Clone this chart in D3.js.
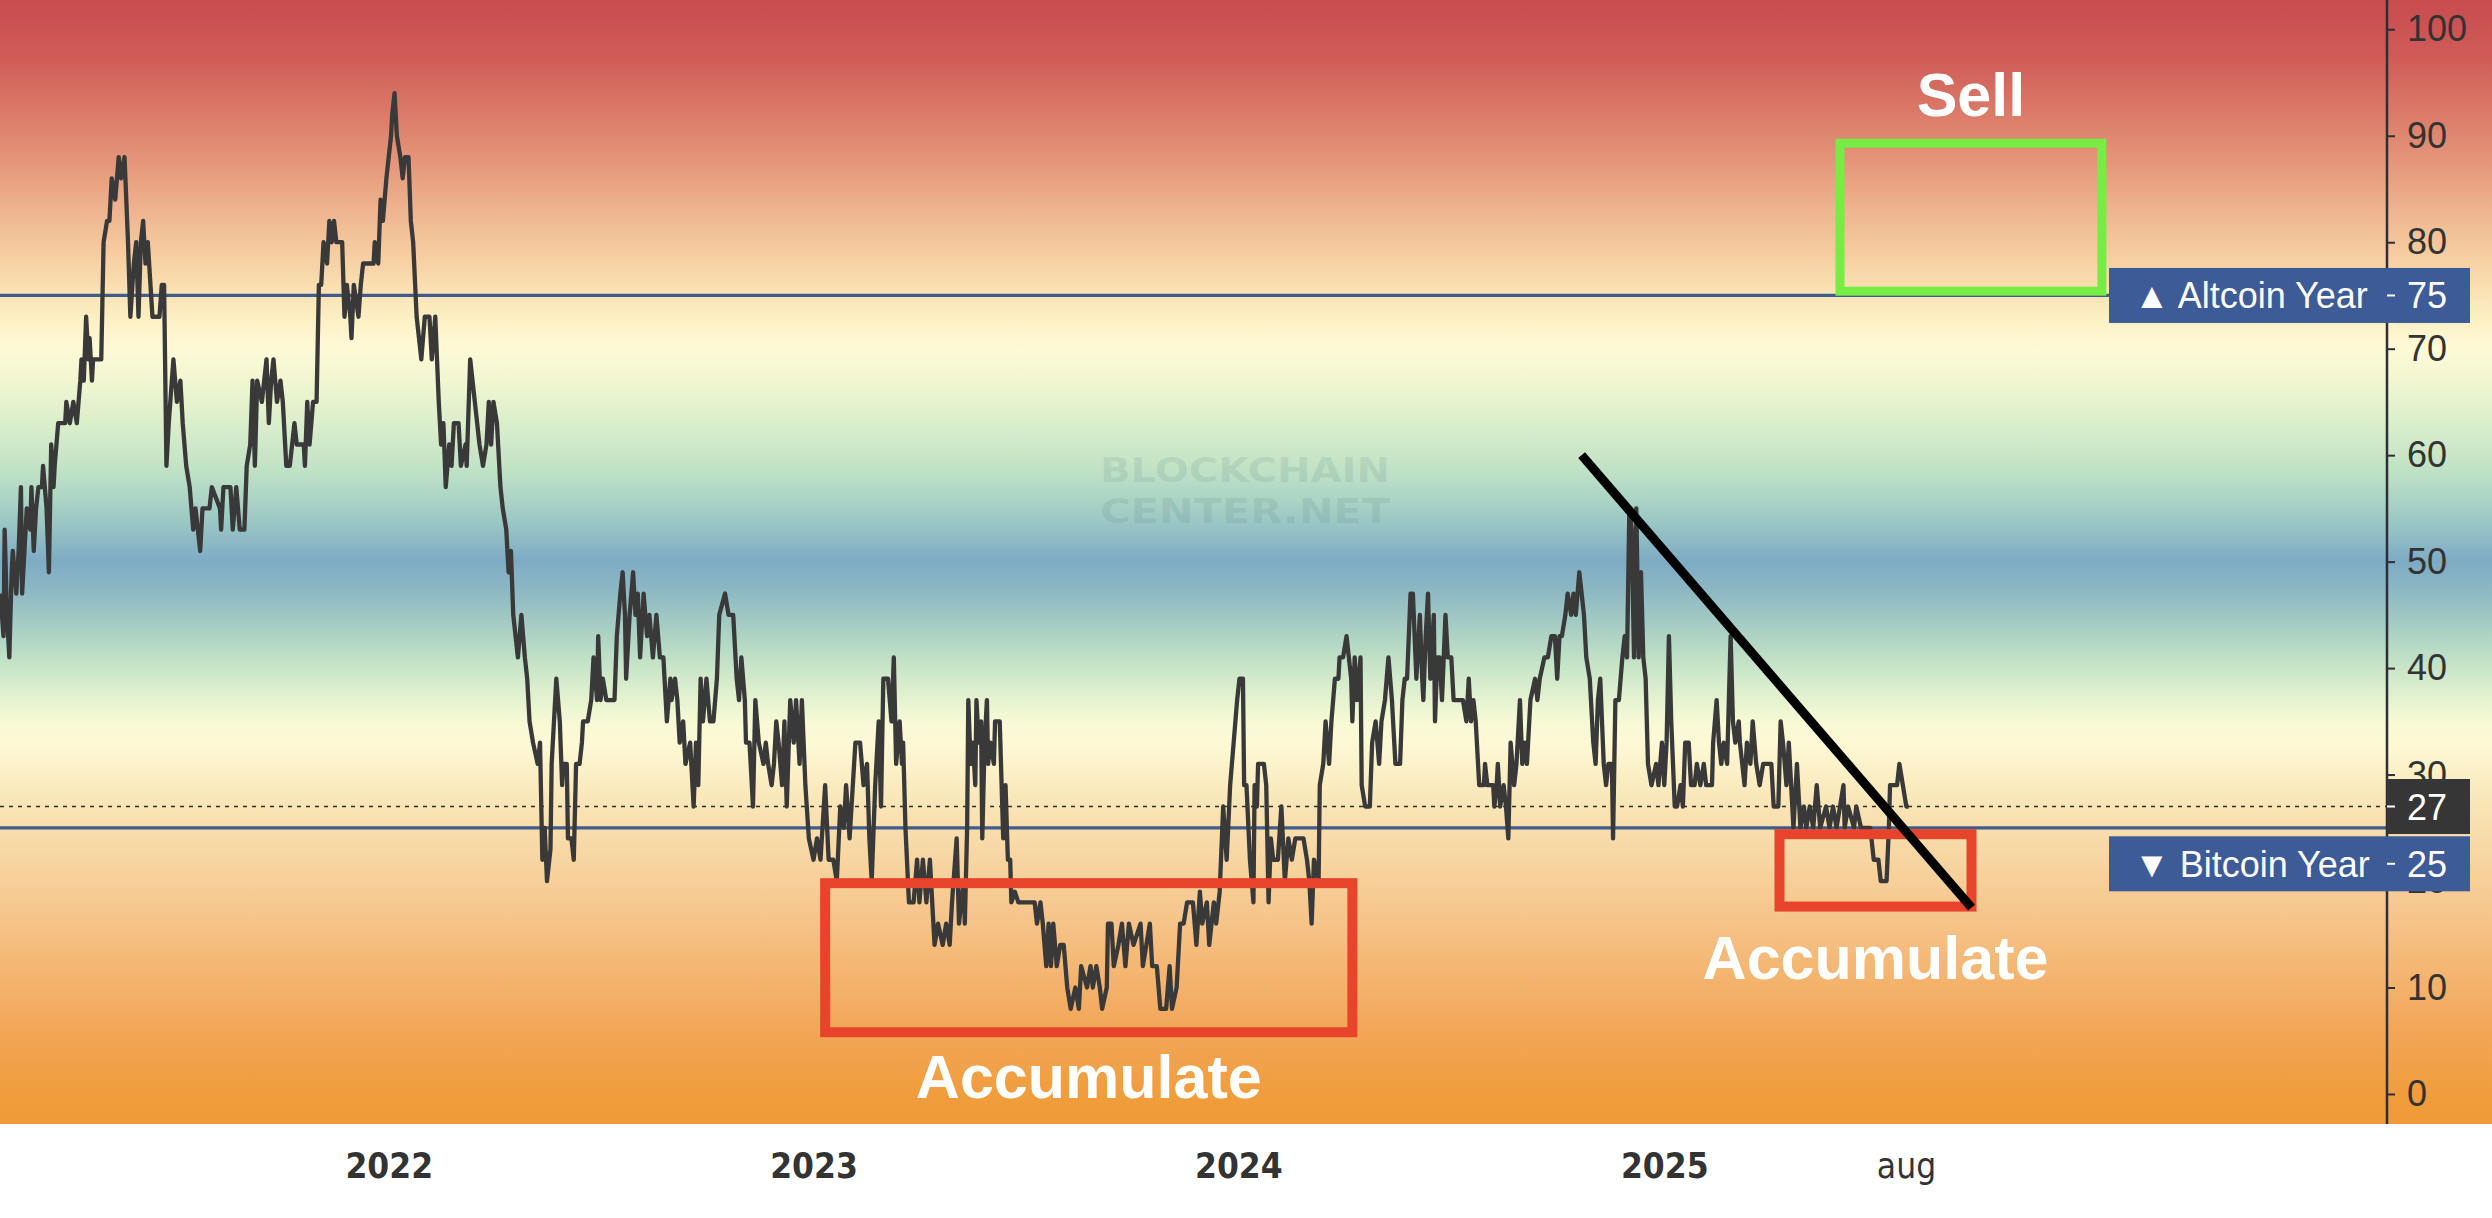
<!DOCTYPE html>
<html>
<head>
<meta charset="utf-8">
<script src="https://cdn.jsdelivr.net/npm/d3@7"></script>
<style>
html,body{margin:0;padding:0;background:#ffffff;overflow:hidden}
</style>
</head>
<body>
<svg id="chart" width="2492" height="1218"></svg>
<script>
// ---------------- DATA ----------------
const baseDate = "2021-02-01";
// [days after baseDate, altcoin season index]
const readings2021 = [
[0,47],[1,46],[3,43],[4,53],[6,45],[8,41],[10,49],[11,51],[14,47],[16,51],
[18,57],[19,47],[21,51],[23,55],[26,53],[27,57],[29,51],[31,55],[33,57],[36,57],
[37,59],[40,55],[42,49],[44,61],[46,57],[47,59],[50,63],[56,63],[57,65],[60,63],
[63,65],[66,63],[69,67],[70,69],[72,67],[74,73],[76,69],[77,71],[79,67],[80,69],
[87,69],[89,80],[92,82],[94,82],[96,86],[99,84],[102,88],[104,86],[107,88],[110,80],
[112,73],[115,78],[117,80],[119,73],[121,80],[123,82],[125,78],[127,80],[131,73],[137,73],
[139,76],[141,76],[143,59],[145,63],[149,69],[152,65],[155,67],[157,63],[160,59],[163,57],
[166,53],[168,55],[172,51],[174,55],[180,55],[182,57],[189,55],[190,53],[192,57],[198,57],
[200,53],[203,57],[206,53],[210,53],[212,59],[215,61],[217,67],[219,59],[221,67],[225,65],
[229,69],[231,63],[233,67],[235,69],[238,65],[241,67],[243,65],[246,59],[249,59],[251,61],
[253,63],[255,61],[261,61],[262,59],[264,65],[266,61],[269,65],[272,65],[274,76],[276,76],
[278,80],[281,78],[283,82],[285,80],[287,82],[289,80],[294,80],[296,73],[298,76],[301,73],
[302,71],[304,76],[308,73],[310,76],[312,78],[321,78],[322,80],[325,78],[327,84],[329,82]
];
const readings2022 = [
[332,86],[334,88],[336,90],[337,92],[339,94],[341,90],[344,88],[346,86],[348,88],[351,88],
[353,82],[355,80],[358,73],[360,71],[362,69],[365,73],[369,73],[371,69],[374,73],[377,65],
[379,61],[381,63],[383,57],[386,61],[388,59],[390,63],[394,63],[396,59],[400,61],[401,59],
[404,69],[408,65],[412,61],[415,59],[418,61],[420,65],[422,61],[424,65],[427,63],[430,57],
[432,55],[435,53],[437,49],[439,51],[441,45],[443,43],[445,41],[448,45],[451,41],[453,39],
[455,35],[458,33],[462,31],[464,33],[466,22],[468,25],[470,20],[473,23],[474,31],[476,35],
[478,39],[481,35],[483,29],[484,31],[487,31],[488,24],[491,24],[493,22],[495,31],[498,31],
[500,33],[501,35],[505,35],[508,37],[510,41],[513,37],[514,43],[516,37],[518,39],[521,37],
[528,37],[530,43],[533,47],[535,49],[537,45],[538,39],[541,45],[544,49],[546,45],[548,47],
[550,41],[553,47],[556,43],[558,45],[561,41],[564,45],[567,41],[570,41],[573,35],[576,39],
[577,37],[580,39],[582,37],[584,33],[587,35],[589,31],[593,33],[596,27],[598,33],[600,29],
[602,39],[604,35],[607,39],[610,35],[613,35],[616,39],[618,45],[623,47],[626,45],[630,45],
[633,39],[635,37],[637,41],[640,37],[641,33],[644,33],[647,27],[649,37],[652,33],[656,31],
[658,33],[660,31],[663,29],[665,31],[667,35],[669,33],[672,29],[674,35],[676,27],[679,37],
[682,33],[684,37],[687,31],[689,37],[692,29]
];
const readings2023 = [
[695,24],[699,22],[702,24],[705,22],[709,29],[712,22],[716,22],[719,20],[722,27],[725,25],
[727,29],[730,24],[735,33],[739,33],[742,29],[745,31],[747,24],[749,20],[752,29],[755,35],
[757,27],[759,39],[763,39],[766,35],[768,41],[770,31],[773,35],[775,31],[776,33],[778,25],
[781,18],[785,18],[788,22],[790,18],[793,22],[796,18],[799,22],[801,18],[803,14],[806,16],
[810,14],[813,16],[816,14],[818,18],[822,24],[824,16],[828,20],[829,16],[831,25],[832,37],
[834,31],[836,33],[838,29],[839,37],[841,33],[843,35],[844,24],[846,33],[848,37],[849,31],
[851,33],[854,31],[855,35],[859,35],[862,24],[864,29],[866,22],[868,22],[869,18],[872,19],
[875,18],[889,18],[891,16],[894,18],[896,16],[899,12],[901,16],[903,12],[905,16],[908,12],
[911,14],[914,14],[917,10],[920,8],[924,10],[927,8],[929,12],[934,10],[937,12],[939,10],
[942,12],[945,10],[947,8],[951,10],[952,16],[955,16],[957,12],[961,14],[964,16],[967,12],
[970,16],[974,14],[980,16],[982,12],[985,14],[988,16],[990,12],[994,12],[997,8],[1002,8],
[1005,12],[1007,8],[1011,10],[1014,16],[1017,16],[1020,18],[1025,18],[1028,14],[1031,19],[1033,16],
[1037,18],[1039,14],[1043,18],[1045,16],[1048,19],[1051,27],[1054,22],[1057,29]
];
const readings2024 = [
[1060,33],[1063,37],[1065,39],[1068,39],[1069,29],[1071,29],[1074,22],[1077,18],[1078,29],[1080,27],
[1081,31],[1086,31],[1088,29],[1090,18],[1092,24],[1094,22],[1098,22],[1101,27],[1104,20],[1107,24],
[1110,22],[1113,24],[1120,24],[1123,22],[1125,20],[1127,16],[1129,22],[1133,20],[1134,29],[1137,31],
[1139,35],[1142,31],[1144,35],[1147,39],[1150,39],[1151,41],[1154,41],[1157,43],[1159,41],[1161,39],
[1162,35],[1164,41],[1166,37],[1169,41],[1170,29],[1173,27],[1177,27],[1179,33],[1182,35],[1185,31],
[1187,35],[1190,37],[1193,41],[1196,37],[1199,31],[1203,31],[1205,37],[1207,39],[1209,39],[1212,47],
[1214,47],[1217,39],[1220,45],[1222,39],[1223,37],[1225,43],[1227,47],[1229,39],[1232,45],[1233,35],
[1235,41],[1237,41],[1239,37],[1242,45],[1244,41],[1247,41],[1249,37],[1257,37],[1260,35],[1262,39],
[1264,35],[1266,37],[1268,35],[1271,29],[1275,29],[1276,31],[1278,29],[1283,29],[1284,27],[1286,29],
[1287,31],[1289,27],[1292,29],[1294,27],[1296,24],[1298,33],[1301,29],[1303,31],[1306,37],[1308,31],
[1310,33],[1312,31],[1315,37],[1319,39],[1321,37],[1323,39],[1327,41],[1330,41],[1333,43],[1336,43],
[1338,39],[1340,43],[1342,43],[1345,45],[1347,47],[1350,45],[1352,47],[1354,45],[1357,49],[1359,47],
[1361,45],[1363,41],[1366,39],[1369,33],[1371,31],[1373,37],[1375,39],[1378,31],[1380,29],[1382,31],
[1385,31],[1386,24],[1388,37],[1391,37],[1394,41],[1396,43],[1398,41],[1400,55],[1402,53],[1404,41],
[1406,55],[1408,41],[1410,49],[1412,41],[1414,39],[1416,31],[1419,29],[1423,31],[1425,29]
];
const readings2025 = [
[1428,33],[1430,29],[1432,33],[1434,43],[1436,35],[1439,27],[1441,27],[1444,29],[1446,27],[1448,33],
[1451,33],[1453,29],[1456,29],[1458,31],[1461,29],[1464,31],[1466,29],[1471,29],[1472,33],[1475,37],
[1477,33],[1479,31],[1481,33],[1484,31],[1487,43],[1489,35],[1491,33],[1494,35],[1495,33],[1497,31],
[1499,29],[1501,33],[1504,31],[1506,35],[1509,31],[1512,29],[1515,31],[1522,31],[1524,27],[1528,27],
[1530,35],[1532,33],[1535,29],[1537,33],[1539,29],[1541,25],[1544,31],[1547,25],[1550,27],[1552,25],
[1555,27],[1558,25],[1561,29],[1564,25],[1569,27],[1572,25],[1575,27],[1578,25],[1581,27],[1584,29],
[1585,25],[1588,27],[1593,25],[1595,27],[1599,25],[1607,25],[1610,22],[1614,22],[1616,20],[1621,20],
[1623,25],[1624,29],[1630,29],[1632,31],[1635,29],[1638,27],[1640,27]
];

const xDomainDates = ["2021-02-01", "2026-09-14"];
const yDomainValues = [-2.82, 102.75];
const yTickValues = [0, 10, 20, 30, 40, 50, 60, 70, 80, 90, 100];
const xTickDates = ["2022-01-01", "2023-01-01", "2024-01-01", "2025-01-01", "2025-08-01"];
const xTickLabels = ["2022", "2023", "2024", "2025", "aug"];

const thresholdValues = [75, 25];
const thresholdLabels = ["\u25B2 Altcoin Year", "\u25BC Bitcoin Year"];
const currentValue = 27;

const zoneLabels = ["Sell", "Accumulate", "Accumulate"];
const zoneStart = ["2025-06-01", "2023-01-11", "2025-04-10"];
const zoneEnd = ["2026-01-12", "2024-04-08", "2025-09-22"];
const zoneHigh = [89.3, 19.8, 24.4];
const zoneLow = [75.4, 5.8, 17.6];

const trendDates = ["2024-10-22", "2025-09-22"];
const trendValues = [60.0, 17.5];

const gradientValues = [104, 97, 92, 87, 83, 79, 76, 73, 70, 67, 63, 59, 56, 53, 50, 47, 44, 41, 38, 35, 33, 30, 27, 23, 18, 12, 6, 0, -3];
const gradientColors = ["#c84c4e","#d05d58","#db7b69","#e6997c","#eeb48f","#f5cc9f","#f9deb0","#fcefc3","#fefad6","#f1f6d1","#dbeecb","#c3e3c6","#acd5c5","#95c2c4","#7eabc4","#8ebac3","#a6cdc4","#bfe0c6","#dcefcd","#f7f9d5","#fdf9d5","#fbefc5","#f9e4b5","#f8d8a5","#f6c991","#f4b774","#f2a657","#f09d3d","#ef9a37"];

// ---------------- DRAW ----------------
const W = 2492, H = 1218, plotRight = 2387, plotBottom = 1124;
const parse = d3.utcParse("%Y-%m-%d");
const base = parse(baseDate);
const series = [].concat(readings2021, readings2022, readings2023, readings2024, readings2025)
  .map(([d, v]) => ({date: d3.utcDay.offset(base, d), value: v}));

const x = d3.scaleUtc().domain(xDomainDates.map(parse)).range([0, plotRight]);
const y = d3.scaleLinear().domain(yDomainValues).range([plotBottom, 0]);

const svg = d3.select("#chart");
const defs = svg.append("defs");
const grad = defs.append("linearGradient").attr("id", "bgGrad")
  .attr("gradientUnits", "userSpaceOnUse")
  .attr("x1", 0).attr("x2", 0).attr("y1", 0).attr("y2", plotBottom);
gradientValues.forEach((v, i) => {
  grad.append("stop")
    .attr("offset", Math.max(0, Math.min(1, y(v) / plotBottom)))
    .attr("stop-color", gradientColors[i]);
});
defs.append("clipPath").attr("id", "plotClip")
  .append("rect").attr("x", 0).attr("y", 0).attr("width", plotRight).attr("height", plotBottom);

svg.append("rect").attr("x", 0).attr("y", 0).attr("width", W).attr("height", H).attr("fill", "#ffffff");
svg.append("rect").attr("x", 0).attr("y", 0).attr("width", W).attr("height", plotBottom).attr("fill", "url(#bgGrad)");

// watermark
const wm = svg.append("g").attr("fill", "rgba(70,110,115,0.13)")
  .attr("font-family", "'DejaVu Sans', sans-serif").attr("font-weight", "bold")
  .attr("font-size", 34).attr("text-anchor", "middle");
wm.append("text").attr("x", 1245).attr("y", 482).attr("textLength", 290).attr("lengthAdjust", "spacingAndGlyphs").text("BLOCKCHAIN");
wm.append("text").attr("x", 1245).attr("y", 523).attr("textLength", 290).attr("lengthAdjust", "spacingAndGlyphs").text("CENTER.NET");

const plot = svg.append("g").attr("clip-path", "url(#plotClip)");

// threshold lines
plot.selectAll("line.threshold").data(thresholdValues).join("line")
  .attr("class", "threshold")
  .attr("x1", 0).attr("x2", plotRight)
  .attr("y1", d => y(d)).attr("y2", d => y(d))
  .attr("stroke", "#3f5c8c").attr("stroke-width", 3.2);

// current value dotted line
plot.append("line")
  .attr("x1", 0).attr("x2", plotRight)
  .attr("y1", y(currentValue)).attr("y2", y(currentValue))
  .attr("stroke", "#2f2f2f").attr("stroke-width", 1.6).attr("stroke-dasharray", "4,5");

// zone boxes
const zoneColors = ["#76ec45", "#e8432b", "#e8432b"];
zoneLabels.forEach((lab, i) => {
  const x0 = x(parse(zoneStart[i])), x1 = x(parse(zoneEnd[i]));
  const y0 = y(zoneHigh[i]), y1 = y(zoneLow[i]);
  svg.append("rect")
    .attr("x", x0).attr("y", y0).attr("width", x1 - x0).attr("height", y1 - y0)
    .attr("fill", "none").attr("stroke", zoneColors[i]).attr("stroke-width", i === 0 ? 9 : 10);
});

// series line
const line = d3.line().x(d => x(d.date)).y(d => y(d.value));
plot.append("path").datum(series)
  .attr("d", line)
  .attr("fill", "none")
  .attr("stroke", "#393939")
  .attr("stroke-width", 4.3)
  .attr("stroke-linejoin", "round");

// trend line
svg.append("line")
  .attr("x1", x(parse(trendDates[0]))).attr("y1", y(trendValues[0]))
  .attr("x2", x(parse(trendDates[1]))).attr("y2", y(trendValues[1]))
  .attr("stroke", "#000000").attr("stroke-width", 9);

// zone labels
const labelOffsets = [-27, 66, 72];
zoneLabels.forEach((lab, i) => {
  const cx = (x(parse(zoneStart[i])) + x(parse(zoneEnd[i]))) / 2;
  const ty = i === 0 ? y(zoneHigh[i]) + labelOffsets[i] : y(zoneLow[i]) + labelOffsets[i];
  svg.append("text")
    .attr("x", cx).attr("y", ty)
    .attr("text-anchor", "middle")
    .attr("font-family", "'Liberation Sans', Arial, sans-serif")
    .attr("font-weight", "bold").attr("font-size", 61)
    .attr("fill", "#ffffff")
    .text(lab);
});

// right axis
const yAxis = d3.axisRight(y).tickValues(yTickValues).tickSize(8).tickSizeOuter(0).tickPadding(12);
const ya = svg.append("g").attr("transform", `translate(${plotRight},0)`).call(yAxis);
ya.select(".domain").attr("stroke", "#2e2e38").attr("stroke-width", 2.5)
  .attr("d", `M0,0V${plotBottom}`);
ya.selectAll(".tick line").attr("stroke", "#2e2e38").attr("stroke-width", 2);
ya.selectAll(".tick text")
  .attr("font-family", "'Liberation Sans', Arial, sans-serif")
  .attr("font-size", 36).attr("fill", "#333333");

// threshold label boxes
const boxShift = [0, 36];
thresholdValues.forEach((v, i) => {
  const cy = y(v) + boxShift[i];
  const g = svg.append("g");
  g.append("rect").attr("x", 2109).attr("y", cy - 27.5).attr("width", 2470 - 2109).attr("height", 55).attr("fill", "#3d5b97");
  g.append("text").attr("x", 2134).attr("y", cy + 13)
    .attr("font-family", "'Liberation Sans', 'DejaVu Sans', sans-serif")
    .attr("font-size", 36).attr("fill", "#ffffff").text(thresholdLabels[i]);
  g.append("line").attr("x1", plotRight).attr("x2", plotRight + 8).attr("y1", cy).attr("y2", cy)
    .attr("stroke", "#ffffff").attr("stroke-width", 2);
  g.append("text").attr("x", plotRight + 20).attr("y", cy + 13)
    .attr("font-family", "'Liberation Sans', Arial, sans-serif")
    .attr("font-size", 36).attr("fill", "#ffffff").text(v);
});

// current value box
{
  const cy = y(currentValue);
  svg.append("rect").attr("x", plotRight).attr("y", cy - 27.5).attr("width", 2470 - plotRight).attr("height", 55).attr("fill", "#363636");
  svg.append("line").attr("x1", plotRight).attr("x2", plotRight + 8).attr("y1", cy).attr("y2", cy)
    .attr("stroke", "#ffffff").attr("stroke-width", 2);
  svg.append("text").attr("x", plotRight + 20).attr("y", cy + 13)
    .attr("font-family", "'Liberation Sans', Arial, sans-serif")
    .attr("font-size", 36).attr("fill", "#ffffff").text(currentValue);
}

// bottom axis
const xAxis = d3.axisBottom(x)
  .tickValues(xTickDates.map(parse))
  .tickFormat((d, i) => xTickLabels[i])
  .tickSize(0).tickPadding(0);
const xa = svg.append("g").attr("transform", "translate(0,1178)").call(xAxis);
xa.select(".domain").remove();
xa.selectAll(".tick text")
  .attr("y", 0).attr("dy", 0)
  .attr("x", (d, i) => i < 4 ? 0 : -5)
  .attr("font-family", "'DejaVu Sans Condensed', 'DejaVu Sans', sans-serif")
  .style("font-stretch", "condensed")
  .attr("font-size", 35)
  .attr("fill", "#333333")
  .attr("font-weight", (d, i) => i < 4 ? "bold" : "normal");
</script>
</body>
</html>
